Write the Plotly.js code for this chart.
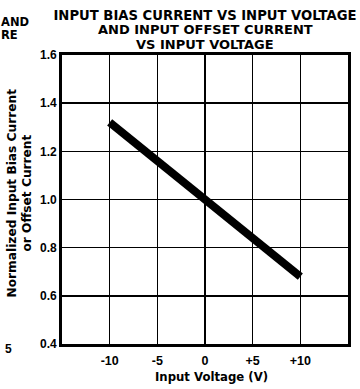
<!DOCTYPE html>
<html><head><meta charset="utf-8">
<script src="https://cdn.plot.ly/plotly-3.0.1.min.js"></script>
<style>html,body{margin:0;padding:0;background:#fff}#c{width:360px;height:389px}</style>
</head><body><div id="c"></div>
<script>
const voltage = [-10, 10];
const normCurrent = [1.32, 0.68];
const xTickVals = [-10, -5, 0, 5, 10];
const xTickText = ["-10", "-5", "0", "+5", "+10"];
const yTickVals = [0.4, 0.6, 0.8, 1.0, 1.2, 1.4, 1.6];
const yTickText = ["0.4", "0.6", "0.8", "1.0", "1.2", "1.4", "1.6"];
const titleLines = ["INPUT BIAS CURRENT VS INPUT VOLTAGE", "AND INPUT OFFSET CURRENT", "VS INPUT VOLTAGE"];
const yTitleLines = ["Normalized Input Bias Current", "or Offset Current"];
const xTitle = "Input Voltage (V)";

const D = "DejaVu Sans, sans-serif";
const L = "Liberation Sans, Arial, sans-serif";
const trace = {
  x: voltage, y: normCurrent, mode: "lines", type: "scatter",
  line: {color: "#000", width: 8}, hoverinfo: "skip"
};
function ann(text, x, y, opts) {
  return Object.assign({text: "<b>" + text + "</b>", xref: "paper", yref: "paper", x: x, y: y,
    xanchor: "center", yanchor: "middle", showarrow: false, borderpad: 0,
    font: {size: 12.5, family: D, color: "#000"}}, opts || {});
}
const layout = {
  width: 360, height: 389,
  margin: {l: 62, r: 12, t: 55, b: 45},
  paper_bgcolor: "#fff", plot_bgcolor: "#fff",
  showlegend: false,
  font: {family: D, color: "#000"},
  title: {
    text: "<b>" + titleLines[0] + "</b>",
    font: {size: 13.2, family: D, color: "#000"},
    xref: "paper", x: 0.5, xanchor: "center",
    yref: "container", y: 1 - 15 / 389, yanchor: "middle"
  },
  xaxis: {
    range: [-15, 15], tickvals: xTickVals, ticktext: xTickText,
    showgrid: true, gridcolor: "#000", gridwidth: 1.6,
    zeroline: false, showline: true, linecolor: "#000", linewidth: 2.8, mirror: true,
    ticks: "", ticklabelstandoff: 3,
    tickfont: {size: 12.5, family: L, weight: "bold", color: "#000"},
    fixedrange: true
  },
  yaxis: {
    range: [0.4, 1.6], tickvals: yTickVals, ticktext: yTickText,
    showgrid: true, gridcolor: "#000", gridwidth: 1.6,
    zeroline: false, showline: true, linecolor: "#000", linewidth: 2.8, mirror: true,
    ticks: "", tickfont: {size: 12, family: L, weight: "bold", color: "#000"},
    fixedrange: true
  },
  annotations: [
    ann(titleLines[1], 0.5, 1.088, {font: {size: 13, family: D, color: "#000"}}),
    ann(titleLines[2], 0.5, 1.038, {font: {size: 13, family: D, color: "#000"}}),
    ann(yTitleLines[0], -0.1731, 0.5225, {textangle: -90, font: {size: 12.2, family: D, color: "#000"}}),
    ann(yTitleLines[1], -0.1241, 0.5225, {textangle: -90, font: {size: 12.2, family: D, color: "#000"}}),
    ann(xTitle, 0.521, -0.1142, {font: {size: 11.7, family: D, color: "#000"}}),
    ann("AND", -0.2168, 1.1125, {xanchor: "left", font: {size: 11.5, family: D, color: "#000"}}),
    ann("RE", -0.2168, 1.069, {xanchor: "left", font: {size: 11.5, family: D, color: "#000"}}),
    ann("5", -0.187, -0.0173, {font: {size: 12, family: L, color: "#000"}})
  ]
};
Plotly.newPlot("c", [trace], layout, {staticPlot: true, displayModeBar: false});
</script></body></html>
